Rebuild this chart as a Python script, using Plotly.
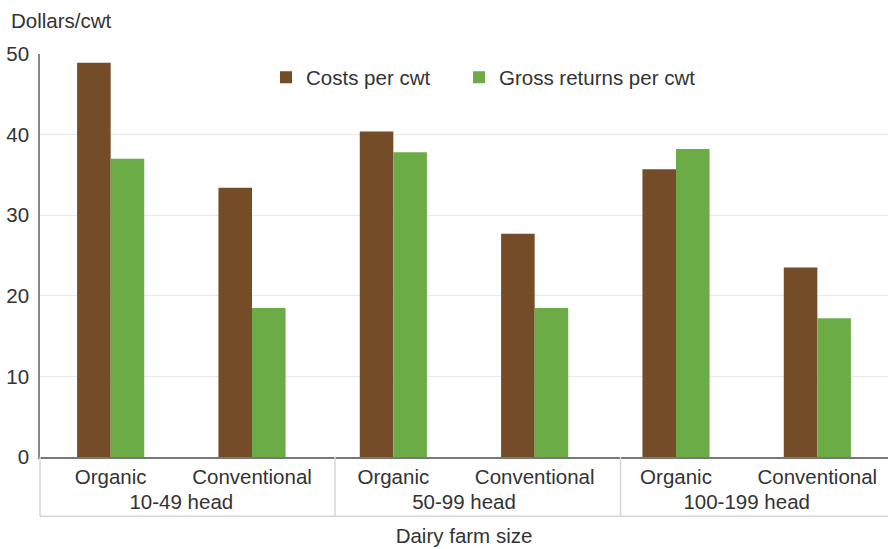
import plotly.graph_objects as go

groups = ["10-49 head", "10-49 head", "50-99 head", "50-99 head", "100-199 head", "100-199 head"]
types = ["Organic", "Conventional", "Organic", "Conventional", "Organic", "Conventional"]
costs = [48.9, 33.4, 40.4, 27.7, 35.7, 23.5]
returns = [37.0, 18.5, 37.8, 18.5, 38.2, 17.2]
series_names = ["Costs per cwt", "Gross returns per cwt"]
y_ticks = [0, 10, 20, 30, 40, 50]

BROWN = "#744C28"
GREEN = "#6BAC47"
FONT = "Liberation Sans, Arial, sans-serif"
TXT = "#333333"
FS = 20.5

W, H = 888, 549
L, R, T, B = 40, 0, 53.5, 91.5
ph = H - T - B
pw = W - L - R

fig = go.Figure()
fig.add_trace(go.Bar(x=[groups, types], y=costs, name=series_names[0], legendwidth=148,
                     marker=dict(color=BROWN, line=dict(width=0))))
fig.add_trace(go.Bar(x=[groups, types], y=returns, name=series_names[1],
                     marker=dict(color=GREEN, line=dict(width=0))))

def py(px):
    return (H - B - px) / ph

def pxx(px):
    return (px - L) / pw

BOX = "#d6d6d6"
fig.update_layout(
    width=W, height=H,
    margin=dict(l=L, r=R, t=T, b=B, pad=0),
    paper_bgcolor="white", plot_bgcolor="white",
    font=dict(family=FONT, size=FS, color=TXT),
    barmode="group", bargap=0.525, bargroupgap=0,
    showlegend=True,
    legend=dict(orientation="h", x=pxx(266), xanchor="left",
                y=py(77), yanchor="middle", font=dict(size=FS, color=TXT),
                bgcolor="rgba(0,0,0,0)", itemwidth=30),
    xaxis=dict(type="multicategory", showgrid=False, ticks="",
               showline=True, linecolor="#777777", linewidth=2,
               showdividers=False,
               tickfont=dict(size=FS, color=TXT),
               title=dict(text="Dairy farm size", font=dict(size=FS, color=TXT), standoff=17)),
    yaxis=dict(range=[0, 50], tickvals=y_ticks, showgrid=True, gridcolor="#e8e8e8",
               gridwidth=1, zeroline=False, showline=True, linecolor="#888888", linewidth=1.5,
               ticks="", ticklabelstandoff=5, tickfont=dict(size=FS, color=TXT)),
    annotations=[dict(text="Dollars/cwt", xref="paper", yref="paper",
                      x=-(L - 9) / pw, xanchor="left", y=py(20), yanchor="middle",
                      showarrow=False, font=dict(size=FS, color=TXT))],
    shapes=[
        dict(type="line", xref="paper", yref="paper", x0=0, x1=1, y0=py(517), y1=py(517),
             line=dict(color=BOX, width=1.5)),
        dict(type="line", xref="paper", yref="paper", x0=0, x1=0, y0=py(517), y1=0,
             line=dict(color=BOX, width=1.5)),
        dict(type="line", xref="paper", yref="paper", x0=pxx(335), x1=pxx(335), y0=py(517), y1=0,
             line=dict(color=BOX, width=1.5)),
        dict(type="line", xref="paper", yref="paper", x0=pxx(620.5), x1=pxx(620.5), y0=py(517), y1=0,
             line=dict(color=BOX, width=1.5)),
    ],
)

fig.write_html("out.html")
